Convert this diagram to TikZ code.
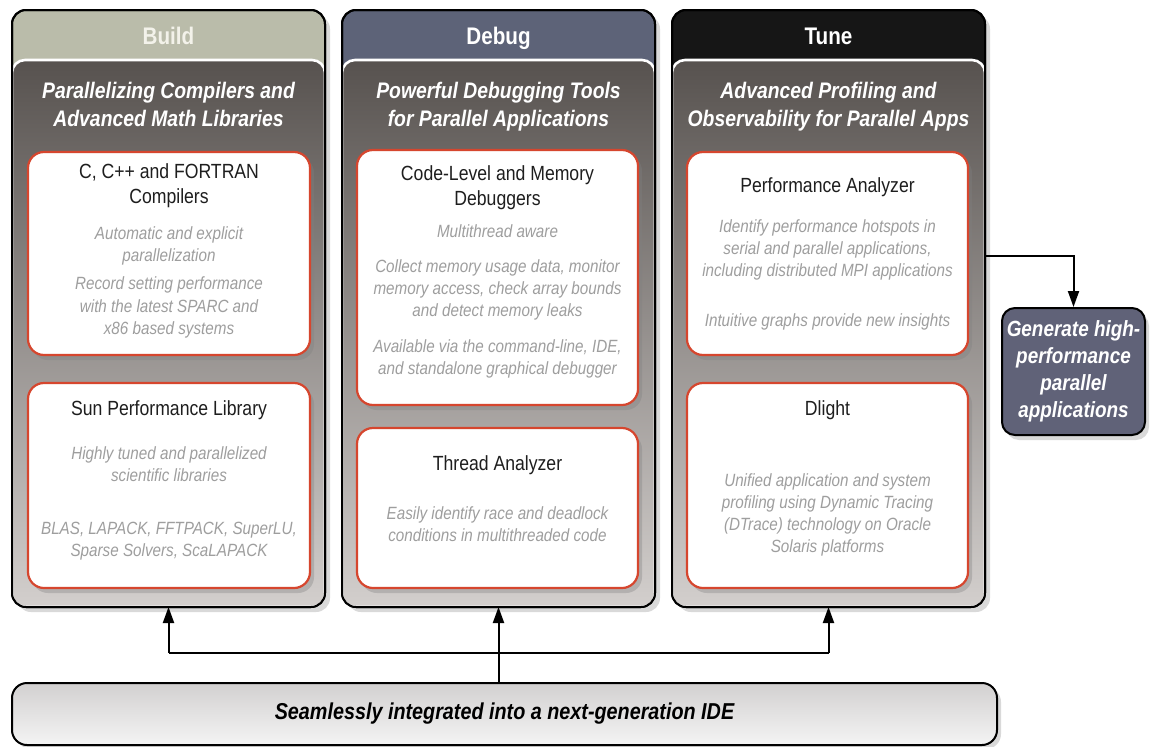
\documentclass[tikz,border=0pt]{standalone}
\usepackage{fontspec}
\setmainfont{Liberation Sans}[FakeStretch=0.86]
\usetikzlibrary{shadows,arrows.meta,calc}
\definecolor{buildhd}{HTML}{BABCAA}
\definecolor{debughd}{HTML}{5D6378}
\definecolor{tunehd}{HTML}{161616}
\definecolor{innertop}{HTML}{57524F}
\definecolor{innerbot}{HTML}{D3CFCD}
\definecolor{cardred}{HTML}{D6462E}
\definecolor{titlecol}{HTML}{1E1E1E}
\definecolor{bodygray}{HTML}{9E9E9E}
\definecolor{goalfill}{HTML}{606278}
\definecolor{buildtxt}{HTML}{F3F2EA}
\definecolor{idetop}{HTML}{D2D0D0}
\definecolor{idebot}{HTML}{F4F4F4}
\begin{document}
\begin{tikzpicture}[x=1pt,y=-1pt,
  panel/.style={draw=black,line width=2pt,rounded corners=14pt,minimum width=313pt,minimum height=597pt,anchor=north west,inner sep=0pt,outer sep=0pt,drop shadow={shadow xshift=5pt,shadow yshift=-5pt,opacity=0.3}},
  card/.style={draw=cardred,line width=2.2pt,fill=white,rounded corners=16pt,anchor=north west,inner sep=0pt,outer sep=0pt,drop shadow={shadow xshift=4pt,shadow yshift=-5pt,opacity=0.35}},
  hdtext/.style={font=\fontsize{24}{28}\selectfont\bfseries,inner sep=0pt,anchor=base},
  subtext/.style={font=\fontsize{22.5}{28.5}\selectfont\bfseries\itshape,text=white,align=center,inner sep=0pt,anchor=north},
  ctitle/.style={font=\fontsize{20.5}{25}\selectfont,text=titlecol,align=center,inner sep=0pt,anchor=north},
  cbody/.style={font=\fontsize{17.7}{22}\selectfont\itshape,text=bodygray,align=center,inner sep=0pt,anchor=north},
  conn/.style={draw=black,line width=2pt,-{Triangle[length=16pt,width=11pt]}},
  link/.style={draw=black,line width=2pt},
  goalbox/.style={draw=black,line width=2pt,fill=goalfill,rounded corners=13pt,minimum width=143pt,minimum height=127pt,inner sep=0pt,text=white,align=center,font=\fontsize{22}{27}\selectfont\bfseries\itshape,drop shadow={shadow xshift=4pt,shadow yshift=-5pt,opacity=0.3}},
  idebox/.style={draw=black,line width=2pt,top color=idetop,bottom color=idebot,rounded corners=15pt,minimum width=985pt,minimum height=62pt,inner sep=0pt,text=black,font=\fontsize{23}{27}\selectfont\bfseries\itshape,drop shadow={shadow xshift=4pt,shadow yshift=-4pt,opacity=0.3}},
]
\useasboundingbox (0,0) rectangle (1154,747);

% panels
\foreach \nm/\px/\col in {build/12/buildhd, debug/342/debughd, tune/672/tunehd}{
  \node[panel,fill=\col] (\nm) at (\px,10) {};
  \begin{scope}
    \clip[rounded corners=14pt] (\nm.north west) rectangle (\nm.south east);
    \draw[white,line width=2.6pt,rounded corners=13pt,top color=innertop,bottom color=innerbot]
      ($(\nm.north west)+(0,50)$) rectangle (\nm.south east);
  \end{scope}
  \draw[black,line width=2pt,rounded corners=14pt] (\nm.north west) rectangle (\nm.south east);
}

% headers
\node[hdtext,text=buildtxt] (buildh) at (168.5,44) {Build};
\node[hdtext,text=white] (debugh) at (498.5,44) {Debug};
\node[hdtext,text=white] (tuneh) at (828.5,44) {Tune};

\node[subtext] (builds) at (168.5,81.6) {Parallelizing Compilers and\\Advanced Math Libraries};
\node[subtext] (debugs) at (498.5,81.6) {Powerful Debugging Tools\\for Parallel Applications};
\node[subtext] (tunes) at (828.5,81.6) {Advanced Profiling and\\Observability for Parallel Apps};

% cards
\node[card,minimum width=282pt,minimum height=203pt] (bc1) at (28,152) {};
\node[card,minimum width=282pt,minimum height=205pt] (bc2) at (28,383) {};
\node[card,minimum width=281pt,minimum height=255pt] (dc1) at (357,150) {};
\node[card,minimum width=281pt,minimum height=160pt] (dc2) at (357,428) {};
\node[card,minimum width=281pt,minimum height=203pt] (tc1) at (687,152) {};
\node[card,minimum width=281pt,minimum height=205pt] (tc2) at (687,383) {};

% build texts
\node[ctitle] (bc1t) at (169,163.6) {C, C++ and FORTRAN\\Compilers};
\node[cbody] (bc1a) at (169,226.9) {Automatic and explicit\\parallelization};
\node[cbody,font=\fontsize{17.7}{22.5}\selectfont\itshape] (bc1b) at (169,276.9) {Record setting performance\\with the latest SPARC and\\x86 based systems};
\node[ctitle] (bc2t) at (169,400.6) {Sun Performance Library};
\node[cbody] (bc2a) at (169,446.9) {Highly tuned and parallelized\\scientific libraries};
\node[cbody] (bc2b) at (169,521.9) {BLAS, LAPACK, FFTPACK, SuperLU,\\Sparse Solvers, ScaLAPACK};

% debug texts
\node[ctitle] (dc1t) at (497.5,165.6) {Code-Level and Memory\\Debuggers};
\node[cbody] (dc1a) at (497.5,224.9) {Multithread aware};
\node[cbody] (dc1b) at (497.5,259.9) {Collect memory usage data, monitor\\memory access, check array bounds\\and detect memory leaks};
\node[cbody] (dc1c) at (497.5,339.9) {Available via the command-line, IDE,\\and standalone graphical debugger};
\node[ctitle] (dc2t) at (497.5,455.6) {Thread Analyzer};
\node[cbody] (dc2a) at (497.5,506.9) {Easily identify race and deadlock\\conditions in multithreaded code};

% tune texts
\node[ctitle] (tc1t) at (827.5,177.6) {Performance Analyzer};
\node[cbody] (tc1a) at (827.5,219.9) {Identify performance hotspots in\\serial and parallel applications,\\including distributed MPI applications};
\node[cbody] (tc1b) at (827.5,313.9) {Intuitive graphs provide new insights};
\node[ctitle] (tc2t) at (827.5,400.6) {Dlight};
\node[cbody] (tc2a) at (827.5,473.9) {Unified application and system\\profiling using Dynamic Tracing\\(DTrace) technology on Oracle\\Solaris platforms};

% goal box
\node[goalbox] (goal) at (1073.5,371.5) {Generate high-\\performance\\parallel\\applications};
\coordinate (tap) at (985,256);
\draw[conn] (tap -| tune.east) -| (goal.north);

% IDE bar
\node[idebox] (ide) at (504.5,714) {Seamlessly integrated into a next-generation IDE};
\coordinate (hub) at (498.5,653);
\draw[link] (hub -| build.south) -- (hub -| tune.south);
\draw[conn] (hub -| build.south) -- (build.south);
\draw[conn] (hub -| tune.south) -- (tune.south);
\draw[conn] (debug.south |- ide.north) -- (debug.south);
\end{tikzpicture}
\end{document}
